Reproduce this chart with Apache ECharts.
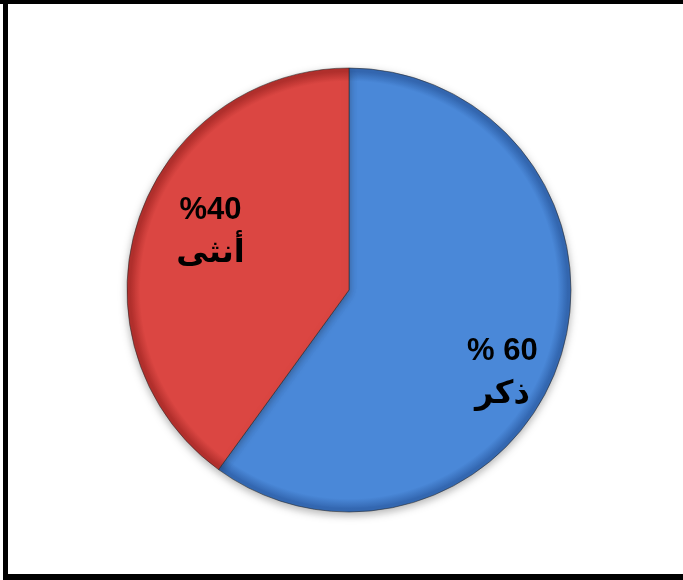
<!DOCTYPE html>
<html>
<head>
<meta charset="utf-8">
<script src="https://cdn.jsdelivr.net/npm/echarts@6/dist/echarts.min.js"></script>
<style>
html, body { margin: 0; padding: 0; background: #fff; }
#main { width: 683px; height: 580px; }
</style>
</head>
<body>
<div id="main"></div>
<script>
var chart = echarts.init(document.getElementById('main'));

// data
var names = ['ذكر', 'أنثى'];
var values = [60, 40];
var labelTexts = ['% 60', '%40'];

var cx = 349, cy = 290, r = 222;
var colors = [
	{ inner: '#4a88d8', outer: '#3468b2' },	// blue
	{ inner: '#db4642', outer: '#b3302d' }	// red
];
var labelOffsets = [[45, 48], [-30, -22]];

var pieData = names.map(function (n, i) {
	return {
		name: n,
		value: values[i],
		itemStyle: {
			// gradient in global coords so both slices share the same bevel ring
			color: new echarts.graphic.RadialGradient(cx, cy, r, [
				{ offset: 0, color: colors[i].inner },
				{ offset: 0.94, color: colors[i].inner },
				{ offset: 0.985, color: colors[i].outer },
				{ offset: 1, color: colors[i].outer }
			], true)
		},
		label: { offset: labelOffsets[i] }
	};
});

var option = {
	animation: false,
	graphic: [
		// black frame (top, left, bottom)
		{ type: 'rect', shape: { x: 0, y: 0, width: 683, height: 4 }, style: { fill: '#000' } },
		{ type: 'rect', shape: { x: 3, y: 0, width: 5, height: 580 }, style: { fill: '#000' } },
		{ type: 'rect', shape: { x: 3, y: 574, width: 680, height: 6 }, style: { fill: '#000' } }
	],
	series: [{
		type: 'pie',
		center: [cx, cy],
		radius: r,
		startAngle: 90,
		clockwise: true,
		data: pieData,
		itemStyle: {
			borderColor: 'rgba(40,40,40,0.55)',
			borderWidth: 1,
			shadowBlur: 8,
			shadowOffsetY: 3,
			shadowColor: 'rgba(0,0,0,0.3)'
		},
		label: {
			show: true,
			position: 'inside',
			color: '#000',
			fontWeight: 'bold',
			fontFamily: '"Liberation Sans", "DejaVu Sans", sans-serif',
			formatter: function (p) {
				return '{num|' + labelTexts[p.dataIndex] + '}\n{ar|' + p.name + '}';
			},
			rich: {
				num: { fontSize: 31, fontWeight: 'bold', color: '#000', lineHeight: 42 },
				ar: { fontSize: 32, fontWeight: 'bold', color: '#000', lineHeight: 44,
					fontFamily: '"DejaVu Sans", sans-serif' }
			}
		},
		labelLine: { show: false },
		emphasis: { disabled: true }
	}]
};

chart.setOption(option);
</script>
</body>
</html>
